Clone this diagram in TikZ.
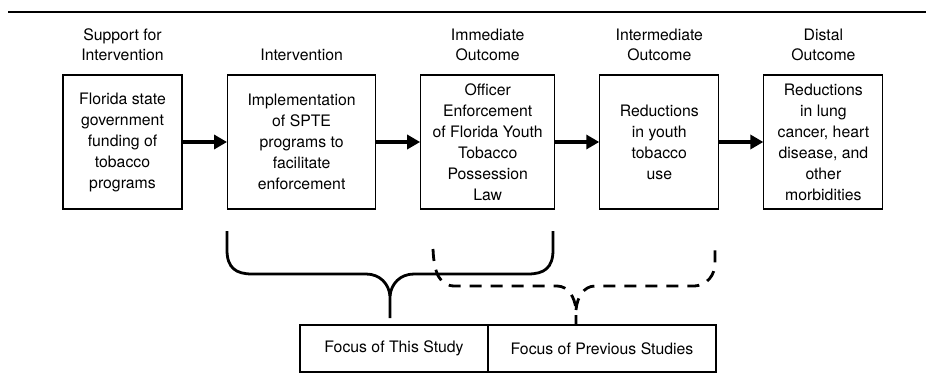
\documentclass[tikz,border=0pt]{standalone}
\usepackage{fontspec}
\setmainfont{TeX Gyre Heros}
\usetikzlibrary{arrows.meta,positioning}

\begin{document}
\begin{tikzpicture}[x=1pt,y=1pt,
  font=\fontsize{15.8}{21}\selectfont,
  box/.style={draw,line width=1.1pt,align=center,minimum height=134pt,inner sep=0pt},
  head/.style={align=center,inner sep=0pt,text depth=0pt,font=\fontsize{15.8}{19.5}\selectfont},
  link/.style={line width=4.5pt,-{Triangle[length=13pt,width=14pt]}},
  focus/.style={draw,line width=1.1pt,minimum height=47pt,inner sep=0pt,outer sep=0pt},
  brace/.style={line width=2.8pt},
  prevbrace/.style={brace,dash pattern=on 12pt off 9pt}]
  \useasboundingbox (0,0) rectangle (926,376);
  % Rule
  \draw[line width=1.4pt] (8,364) -- (926,364);
  % Chain
  \node[box,minimum width=119pt] (fund) at (122.5,234) {Florida state\\government\\funding of\\tobacco\\programs};
  \node[box,minimum width=148pt,right=44.5pt of fund] (spte) {Implementation\\of SPTE\\programs to\\facilitate\\enforcement};
  \node[box,minimum width=134pt,right=44pt of spte] (enf) {Officer\\Enforcement\\of Florida Youth\\Tobacco\\Possession\\Law};
  \node[box,minimum width=119pt,right=44pt of enf] (use) {Reductions\\in youth\\tobacco\\use};
  \node[box,minimum width=119pt,right=44pt of use] (morb) {Reductions\\in lung\\cancer, heart\\disease, and\\other\\morbidities};
  \node[head,above=14pt of fund] (h1) {Support for\\Intervention};
  \node[head,above=14pt of spte] (h2) {Intervention};
  \node[head,above=14pt of enf] (h3) {Immediate\\Outcome};
  \node[head,above=14pt of use] (h4) {Intermediate\\Outcome};
  \node[head,above=14pt of morb] (h5) {Distal\\Outcome};
  \draw[link] (fund) -- (spte);
  \draw[link] (spte) -- (enf);
  \draw[link] (enf) -- (use);
  \draw[link] (use) -- (morb);
  % Focus
  \node[focus,minimum width=188pt] (this) at (394,27.5) {Focus of This Study};
  \node[focus,minimum width=228pt,right=0pt of this] (prev) {Focus of Previous Studies};
  \coordinate (thistip) at (390,58);
  \coordinate (prevtip) at (576,51);
  % Braces
  \draw[brace] (227,145) -- (227,126) .. controls (227,108) and (236,102) .. (252,102) -- (366,102)
    .. controls (380,102) and (389,92) .. (390,80) -- (thistip);
  \draw[brace] (390,80) .. controls (391,92) and (400,102) .. (414,102) -- (528,102)
    .. controls (544,102) and (553,108) .. (553,126) -- (553,145);
  \draw[prevbrace] (433,127) .. controls (434,102) and (440,90) .. (455,90) -- (557,90)
    .. controls (568,90) and (575,79) .. (576,66) -- (prevtip);
  \draw[prevbrace] (576,66) .. controls (577,79) and (584,90) .. (595,90) -- (693,90)
    .. controls (708,90) and (715,102) .. (715,113) -- (715,129);
\end{tikzpicture}
\end{document}
